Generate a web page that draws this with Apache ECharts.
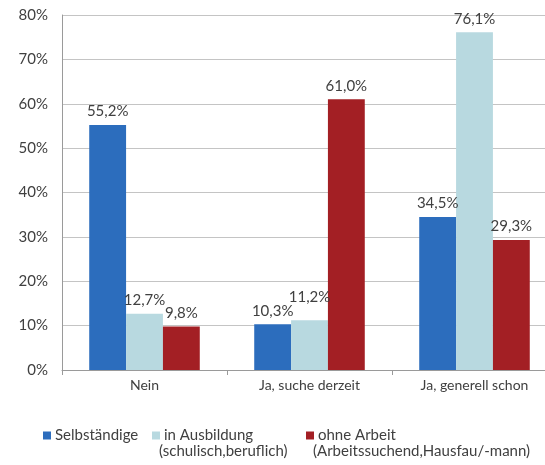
<!DOCTYPE html>
<html><head><meta charset="utf-8">
<script src="https://cdn.jsdelivr.net/npm/echarts@6/dist/echarts.min.js"></script>
<style>html,body{margin:0;padding:0;background:#fff;overflow:hidden}#c{width:545px;height:465px}</style>
</head><body><div id="c"></div>
<script>
const categories = ['Nein', 'Ja, suche derzeit', 'Ja, generell schon'];
const seriesNames = ['Selbständige', 'in Ausbildung\n(schulisch,beruflich)', 'ohne Arbeit\n(Arbeitssuchend,Hausfau/-mann)'];
const selbstaendige = [55.2, 10.3, 34.5];
const inAusbildung = [12.7, 11.2, 76.1];
const ohneArbeit = [9.8, 61.0, 29.3];
const colors = ['#2c6dbd', '#b8d9e0', '#a31f24'];
const font = 'Lato, "Open Sans", sans-serif';
const txt = '#404040';

const fmt = p => p.value.toFixed(1).replace('.', ',') + '%';
function mk(name, data, color, special) {
  return {
    name, type: 'bar', barGap: '0%', barCategoryGap: '33%',
    data: data.map((v, i) => (special && special[i]) ? { value: v, label: special[i] } : v),
    itemStyle: { color },
    label: { show: true, position: 'top', formatter: fmt, color: txt, fontSize: 15, fontFamily: font, distance: 6 }
  };
}
const chart = echarts.init(document.getElementById('c'), null, { renderer: 'canvas' });
const legendBase = { top: 423, itemWidth: 8, itemHeight: 8, itemGap: 0, icon: 'rect',
  formatter: n => n.split('\n')[0],
  textStyle: { fontSize: 15, fontFamily: font, color: txt, padding: [0, 0, 0, -1] } };
chart.setOption({
  animation: false,
  color: colors,
  grid: { left: 62, top: 15, height: 355, width: 495, containLabel: false, outerBoundsMode: 'none' },
  legend: [
    Object.assign({}, legendBase, { left: 38, data: [seriesNames[0]] }),
    Object.assign({}, legendBase, { left: 147, data: [seriesNames[1]] }),
    Object.assign({}, legendBase, { left: 301, data: [seriesNames[2]] })
  ],
  graphic: [
    { type: 'text', left: 159, top: 444, style: { text: seriesNames[1].split('\n')[1], font: '15px ' + font, fill: txt } },
    { type: 'text', left: 313, top: 444, style: { text: seriesNames[2].split('\n')[1], font: '15px ' + font, fill: txt } }
  ],
  xAxis: {
    type: 'category', data: categories,
    axisLine: { lineStyle: { color: '#9a9a9a' } },
    axisTick: { show: true, length: 5, lineStyle: { color: '#9a9a9a' } },
    axisLabel: { fontSize: 14, fontFamily: font, color: txt, margin: 8, hideOverlap: false }
  },
  yAxis: {
    type: 'value', min: 0, max: 80, interval: 10,
    axisLine: { show: true, lineStyle: { color: '#9a9a9a' } },
    axisTick: { show: false },
    splitLine: { lineStyle: { color: '#c4c4c4' } },
    axisLabel: { formatter: v => v + '%', fontSize: 15, fontFamily: font, color: txt, margin: 14 }
  },
  series: [
    mk(seriesNames[0], selbstaendige, colors[0]),
    mk(seriesNames[1], inAusbildung, colors[1], [null, { offset: [0, -10] }, null]),
    mk(seriesNames[2], ohneArbeit, colors[2])
  ]
});
</script></body></html>
